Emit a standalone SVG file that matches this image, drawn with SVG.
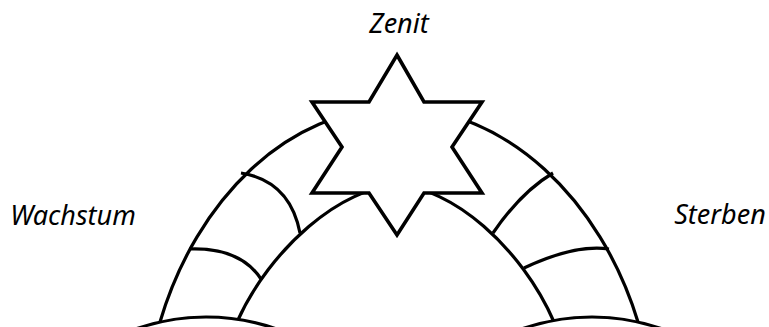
<svg xmlns="http://www.w3.org/2000/svg" width="769" height="327" viewBox="0 0 769 327">
<style>
.ln{fill:none;stroke:#000;stroke-width:3.2;stroke-linecap:butt}
.sh{fill:#fff;stroke:#000;stroke-width:3.2;stroke-linejoin:miter}
.st{fill:#fff;stroke:#000;stroke-width:3.6;stroke-linejoin:miter}
.lb{font-family:"Noto Sans","Open Sans",sans-serif;font-style:italic;font-size:27px;fill:#000;text-anchor:middle}
</style>
<rect width="769" height="327" fill="#fff"/>
<g id="connectors">
<path class="ln" d="M160,322 C196,200 288,108 397,108 C506,108 601,200 638,322"/>
<path class="ln" d="M237,322 C270,248 343,186 397,186 C451,186 522,248 554,322"/>
<path class="ln" d="M241,173 Q290,181 300,233"/>
<path class="ln" d="M189,249 Q240,247 261,279"/>
<path class="ln" d="M553,173 Q521,192 493,233"/>
<path class="ln" d="M609,249 Q575,244 524,268"/>
</g>
<g id="base-left"><circle class="sh" cx="206" cy="530" r="213"/></g>
<g id="base-right"><circle class="sh" cx="592" cy="530" r="213"/></g>
<g id="star"><polygon class="st" points="397,55 424,102 482,102 452,147 482,193 424,193 397,235 369,193 312,193 342,147 312,102 369,102"/></g>
<g id="zenit"><text class="lb" x="399" y="33">Zenit</text></g>
<g id="wachstum"><text class="lb" x="73" y="225">Wachstum</text></g>
<g id="sterben"><text class="lb" x="720" y="224">Sterben</text></g>
</svg>
